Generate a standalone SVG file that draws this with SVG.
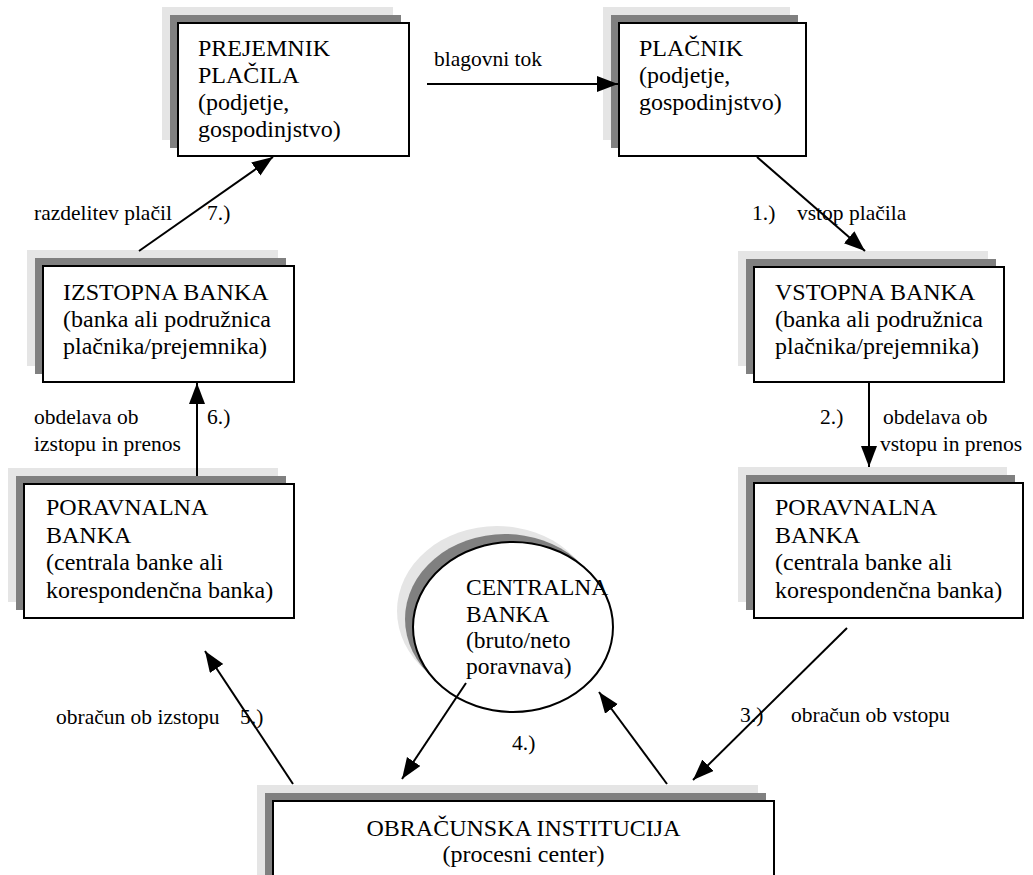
<svg xmlns="http://www.w3.org/2000/svg" width="1033" height="875" viewBox="0 0 1033 875">
<defs>
<style>
.l{fill:#e5e5e5}
.d{fill:#808080}
.m{fill:#fff;stroke:#000;stroke-width:2}
.t{font-family:"Liberation Serif","Times New Roman",serif;font-size:24px;fill:#000}
.e{font-size:23.5px}
.s{font-family:"Liberation Serif","Times New Roman",serif;font-size:21.5px;fill:#000}
.c{stroke:#000;stroke-width:2;fill:none;marker-end:url(#ah)}
</style>
<marker id="ah" markerUnits="userSpaceOnUse" markerWidth="24" markerHeight="18" refX="21" refY="8" orient="auto">
<path d="M0,0 L21,8 L0,16 z" fill="#000"/>
</marker>
</defs>
<rect width="1033" height="875" fill="#fff"/>

<g id="prejemnik">
<rect class="l" x="162" y="7" width="231" height="133"/>
<rect class="d" x="170" y="15" width="231" height="133"/>
<rect class="m" x="178" y="23" width="231" height="133"/>
<text class="t" x="198" y="56">PREJEMNIK</text>
<text class="t" x="198" y="83">PLAČILA</text>
<text class="t" x="198" y="110">(podjetje,</text>
<text class="t" x="198" y="137">gospodinjstvo)</text>
</g>

<g id="placnik">
<rect class="l" x="603" y="7" width="187" height="133"/>
<rect class="d" x="611" y="15" width="187" height="133"/>
<rect class="m" x="619" y="23" width="187" height="133"/>
<text class="t" x="639" y="56">PLAČNIK</text>
<text class="t" x="639" y="83">(podjetje,</text>
<text class="t" x="639" y="110">gospodinjstvo)</text>
</g>

<g id="izstopna">
<rect class="l" x="27" y="250" width="251" height="116"/>
<rect class="d" x="35" y="258" width="251" height="116"/>
<rect class="m" x="43" y="266" width="251" height="116"/>
<text class="t" x="63" y="300">IZSTOPNA BANKA</text>
<text class="t" x="63" y="327">(banka ali podružnica</text>
<text class="t" x="63" y="354">plačnika/prejemnika)</text>
</g>

<g id="vstopna">
<rect class="l" x="738" y="251" width="250" height="115"/>
<rect class="d" x="746" y="259" width="250" height="115"/>
<rect class="m" x="754" y="267" width="250" height="115"/>
<text class="t" x="775" y="300">VSTOPNA BANKA</text>
<text class="t" x="775" y="327">(banka ali podružnica</text>
<text class="t" x="775" y="354">plačnika/prejemnika)</text>
</g>

<g id="poravnalna-left">
<rect class="l" x="8" y="468" width="270" height="134"/>
<rect class="d" x="16" y="476" width="270" height="134"/>
<rect class="m" x="24" y="484" width="270" height="134"/>
<text class="t" x="46" y="515">PORAVNALNA</text>
<text class="t" x="46" y="543">BANKA</text>
<text class="t" x="46" y="570">(centrala banke ali</text>
<text class="t" x="46" y="598">korespondenčna banka)</text>
</g>

<g id="poravnalna-right">
<rect class="l" x="738" y="467" width="269" height="135"/>
<rect class="d" x="746" y="475" width="269" height="135"/>
<rect class="m" x="754" y="483" width="269" height="135"/>
<text class="t" x="775" y="515">PORAVNALNA</text>
<text class="t" x="775" y="543">BANKA</text>
<text class="t" x="775" y="570">(centrala banke ali</text>
<text class="t" x="775" y="598">korespondenčna banka)</text>
</g>

<g id="centralna">
<ellipse class="l" cx="497" cy="611" rx="100" ry="85"/>
<ellipse class="d" cx="505" cy="619" rx="100" ry="85"/>
<ellipse class="m" cx="513" cy="627" rx="100" ry="85"/>
<text class="t e" x="466" y="595">CENTRALNA</text>
<text class="t e" x="466" y="622">BANKA</text>
<text class="t e" x="466" y="648">(bruto/neto</text>
<text class="t e" x="466" y="674">poravnava)</text>
</g>

<g id="obracunska">
<rect class="l" x="257" y="785" width="501" height="110"/>
<rect class="d" x="265" y="793" width="501" height="110"/>
<rect class="m" x="273" y="801" width="501" height="110"/>
<text class="t" x="523.5" y="836" text-anchor="middle">OBRAČUNSKA INSTITUCIJA</text>
<text class="t" x="523.5" y="862" text-anchor="middle">(procesni center)</text>
</g>

<g id="connectors">
<line class="c" x1="427" y1="84" x2="618" y2="84"/>
<line class="c" x1="757" y1="157" x2="865" y2="251"/>
<line class="c" x1="869" y1="383" x2="869" y2="467"/>
<line class="c" x1="197" y1="476" x2="197" y2="383"/>
<line class="c" x1="139" y1="251" x2="273" y2="157"/>
<line class="c" x1="293" y1="784" x2="205" y2="651"/>
<line class="c" x1="466" y1="683" x2="402" y2="779"/>
<line class="c" x1="667" y1="784" x2="599" y2="692"/>
<line class="c" x1="847" y1="628" x2="693" y2="780"/>
</g>

<g id="labels">
<text class="s" x="434" y="66">blagovni tok</text>
<text class="s" x="752" y="220">1.)</text>
<text class="s" x="797" y="220">vstop plačila</text>
<text class="s" x="820" y="424">2.)</text>
<text class="s" x="883" y="424">obdelava ob</text>
<text class="s" x="880" y="451">vstopu in prenos</text>
<text class="s" x="34" y="424">obdelava ob</text>
<text class="s" x="34" y="451">izstopu in prenos</text>
<text class="s" x="207" y="424">6.)</text>
<text class="s" x="34" y="220">razdelitev plačil</text>
<text class="s" x="207" y="220">7.)</text>
<text class="s" x="56" y="724">obračun ob izstopu</text>
<text class="s" x="240" y="724">5.)</text>
<text class="s" x="512" y="750">4.)</text>
<text class="s" x="740" y="722">3.)</text>
<text class="s" x="791" y="722">obračun ob vstopu</text>
</g>
</svg>
